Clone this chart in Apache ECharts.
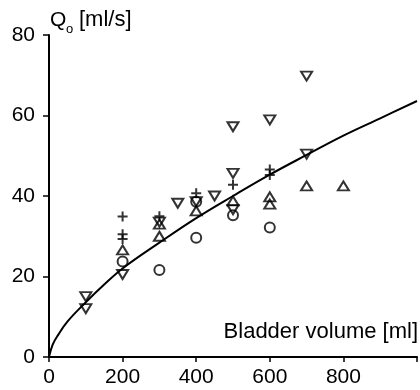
<!DOCTYPE html>
<html>
<head>
<meta charset="utf-8">
<script src="https://cdn.jsdelivr.net/npm/echarts@6/dist/echarts.min.js"></script>
<style>html,body{margin:0;padding:0;background:#fff;}#c{width:420px;height:390px;}</style>
</head>
<body>
<div id="c"></div>
<script>
// x tick labels and y tick labels
var xTicks = [0, 200, 400, 600, 800];
var yTicks = [0, 20, 40, 60, 80];

// Measured points (bladder volume [ml], Qo [ml/s])
var triDown = [[100,15],[100,12],[200,20.5],[300,33.5],[350,38.2],[400,38.6],[450,40],[500,57.2],[500,45.6],[500,36.6],[600,58.9],[700,69.8],[700,50.4]];
var triUp = [[200,26.6],[300,33],[300,30],[400,36.3],[500,38.8],[600,39.8],[600,38],[700,42.5],[800,42.5]];
var plus = [[200,34.9],[200,30.5],[200,29.3],[300,35],[400,40.7],[500,42.8],[600,46.6],[600,45.2]];
var circles = [[200,23.7],[300,21.6],[400,38.6],[400,29.6],[500,35.2],[600,32.2]];

// Fitted curve
var curveX = [0, 10, 25, 50, 100, 150, 200, 300, 400, 500, 600, 700, 800, 900, 1000];
var curveY = [0, 3.1, 5.5, 8.8, 13.6, 18, 22, 28.4, 34.5, 40, 45.3, 50.2, 55, 59.3, 63.6];

var FONT = '"Liberation Sans", Arial, sans-serif';
var chart = echarts.init(document.getElementById('c'), null, {renderer: 'canvas'});
var plusPath = 'path://M4,0H6V4H10V6H6V10H4V6H0V4H4Z';
var hollow = {color: 'rgba(0,0,0,0)', borderColor: '#000', borderWidth: 2};

chart.setOption({
  animation: false,
  backgroundColor: '#fff',
  grid: {left: 49, top: 35, width: 378.5, height: 322, containLabel: false},
  xAxis: {
    type: 'value', min: 0, max: 1000, interval: 200,
    splitLine: {show: false},
    axisLine: {lineStyle: {color: '#000', width: 2}},
    axisTick: {length: 5, lineStyle: {color: '#000', width: 1.5}},
    axisLabel: {
      color: '#000', fontSize: 21, fontFamily: FONT, margin: 10,
      formatter: function (v) { return xTicks.indexOf(v) >= 0 ? String(v) : ''; }
    }
  },
  yAxis: {
    type: 'value', min: 0, max: 80, interval: 20,
    splitLine: {show: false},
    axisLine: {lineStyle: {color: '#000', width: 2}},
    axisTick: {length: 6, lineStyle: {color: '#000', width: 1.5}},
    axisLabel: {
      color: '#000', fontSize: 21, fontFamily: FONT, margin: 14,
      formatter: function (v) { return yTicks.indexOf(v) >= 0 ? String(v) : ''; }
    }
  },
  graphic: [
    {type: 'text', style: {text: 'Q', x: 50, y: 20, fontSize: 21, fontFamily: FONT, fill: '#000', verticalAlign: 'middle'}},
    {type: 'text', style: {text: 'o', x: 66, y: 29, fontSize: 13, fontFamily: FONT, fill: '#000', verticalAlign: 'middle'}},
    {type: 'text', style: {text: '[ml/s]', x: 79, y: 20, fontSize: 22, fontFamily: FONT, fill: '#000', verticalAlign: 'middle'}},
    {type: 'text', style: {text: 'Bladder volume [ml]', x: 418, y: 332, fontSize: 22, fontFamily: FONT, fill: '#000', align: 'right', verticalAlign: 'middle'}}
  ],
  series: [
    {type: 'line', data: curveX.map(function (x, i) { return [x, curveY[i]]; }), smooth: 0.4, showSymbol: false,
     lineStyle: {color: '#000', width: 2}, z: 1},
    {type: 'scatter', data: triDown, symbol: 'triangle', symbolRotate: 180, symbolSize: [11, 9], itemStyle: hollow, z: 3},
    {type: 'scatter', data: triUp, symbol: 'triangle', symbolSize: [11, 9], itemStyle: hollow, z: 3},
    {type: 'scatter', data: plus, symbol: plusPath, symbolSize: [10, 10], itemStyle: {color: '#000'}, z: 3},
    {type: 'scatter', data: circles, symbol: 'circle', symbolSize: 10, itemStyle: hollow, z: 3}
  ]
});
</script>
</body>
</html>
